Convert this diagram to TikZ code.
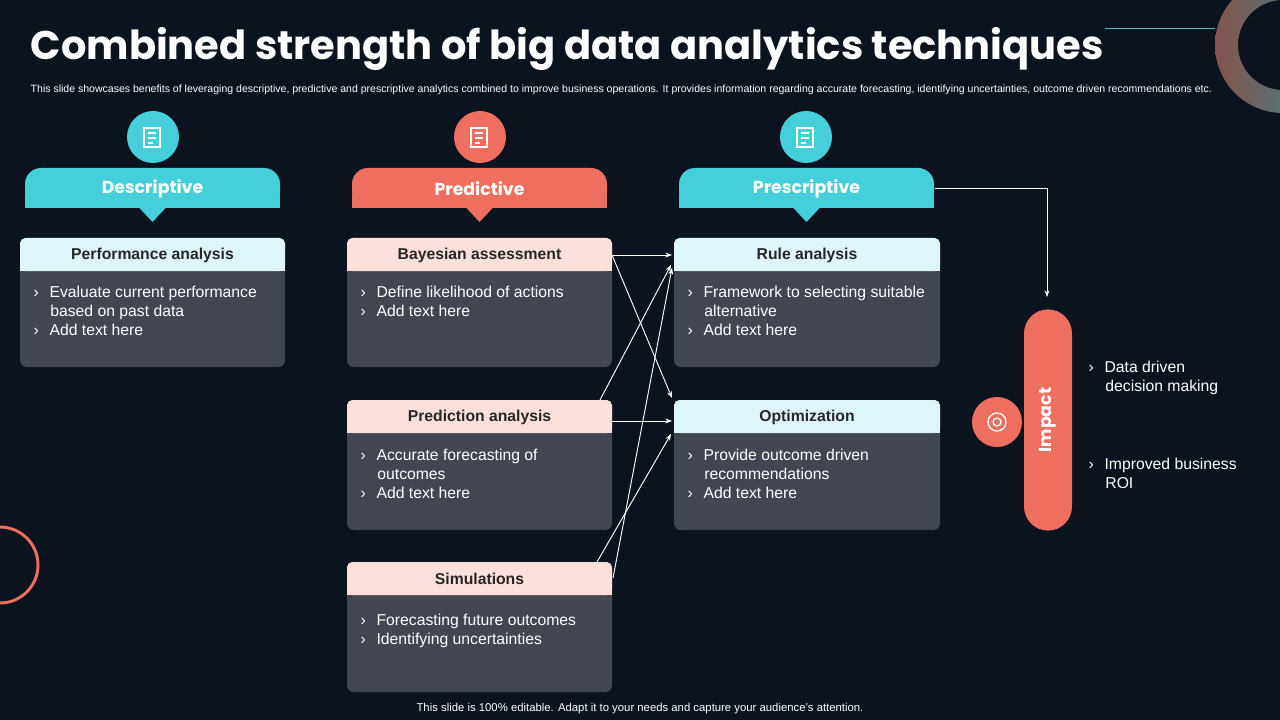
\documentclass[tikz,border=0pt]{standalone}
\usepackage{fontspec}
\setmainfont{Liberation Sans}
\newfontfamily\popp{Poppins}
\usetikzlibrary{arrows.meta,shapes.misc}
\definecolor{bg}{HTML}{0B131F}
\definecolor{cy}{HTML}{45CFD8}
\definecolor{rd}{HTML}{EE6F5F}
\definecolor{lcy}{HTML}{DDF6FA}
\definecolor{lpk}{HTML}{FDE0DC}
\definecolor{gr}{HTML}{414651}
\tikzset{
 x=0.75pt,y=-0.75pt,
 body/.style={font=\fontsize{11.8}{14.5}\selectfont,text=white,anchor=north west,align=left},
 headtxt/.style={font=\bfseries\fontsize{11.8}{14}\selectfont,text=black!85},
 tabtxt/.style={font=\popp\bfseries\fontsize{13}{15}\selectfont,text=white},
 conn/.style={draw=white,line width=0.7pt,-{Stealth[length=5pt]}},
}
\newcommand{\bl}{›\hspace{8pt}}
\newcommand{\ind}{\hspace{12.5pt}}
\newcommand{\card}[6]{% name, x1, y1, x2, y2, headcolor
 \fill[gr,rounded corners=5pt] (#2,#3) rectangle (#4,#5);
 \fill[#6,rounded corners=4pt] (#2,#3) rectangle (#4,#3+33);
 \fill[#6] (#2,#3+20) rectangle (#4,#3+33);
 \coordinate (#1) at ({(#2+#4)/2},#3+17);
}
\newcommand{\tab}[4]{% x1 x2 color label
 \fill[#3,rounded corners=12pt] (#1,208) -- (#1,168) -- (#2,168) -- (#2,208) -- cycle;
 \fill[#3] (#1,195) rectangle (#2,208);
 \fill[#3] ({(#1+#2)/2-14},207) -- ({(#1+#2)/2+14},207) -- ({(#1+#2)/2},222) -- cycle;
 \node[tabtxt] at ({(#1+#2)/2},189) {#4};
}
\begin{document}
\begin{tikzpicture}
\fill[bg] (0,0) rectangle (1280,720);
\useasboundingbox (0,0) rectangle (1280,720);
\begin{scope}
\clip (0,0) rectangle (1280,720);
\fill[even odd rule,left color=rd!55!gray!70!black,right color=cy!70!black] (1283,45) circle (68) (1283,45) circle (45);
\draw[rd,line width=2.2pt] (0,565) circle (38);
\end{scope}
\draw[cy!70!gray,line width=0.6pt] (1105,28) -- (1215,28);
\node[anchor=west,text=white,font=\popp\bfseries\fontsize{30}{34}\selectfont] at (26,49) {Combined strength of big data analytics techniques};
\node[anchor=west,text=white,font=\fontsize{7.9}{9}\selectfont] at (26,90) {This slide showcases benefits of leveraging descriptive, predictive and prescriptive analytics combined to improve business operations. It provides information regarding accurate forecasting, identifying uncertainties, outcome driven recommendations etc.};
\foreach \x/\c in {153/cy,480/rd,806/cy}{
 \fill[\c] (\x,137) circle (26);
 \draw[white,line width=1pt] (\x-9,128) rectangle (\x+7,147);
 \draw[white,line width=1pt] (\x-5,133)--(\x+3,133) (\x-5,138)--(\x+3,138) (\x-5,143)--(\x,143);
}
\tab{25}{280}{cy}{Descriptive}
\tab{352}{607}{rd}{Predictive}
\tab{679}{934}{cy}{Prescriptive}
\card{pa}{20}{238}{285}{367}{lcy}
\node[headtxt] (pah) at (pa) {Performance analysis};
\node[body] at (29,281) {\bl Evaluate current performance\\\ind based on past data\\\bl Add text here};
\card{ba}{347}{238}{612}{367}{lpk}
\node[headtxt] (bah) at (ba) {Bayesian assessment};
\node[body] at (356,281) {\bl Define likelihood of actions\\\bl Add text here};
\card{pr}{347}{400}{612}{530}{lpk}
\node[headtxt] (prh) at (pr) {Prediction analysis};
\node[body] at (356,444) {\bl Accurate forecasting of\\\ind outcomes\\\bl Add text here};
\card{si}{347}{562}{612}{692}{lpk}
\node[headtxt] (sih) at (si) {Simulations};
\node[body] at (356,609) {\bl Forecasting future outcomes\\\bl Identifying uncertainties};
\card{ru}{674}{238}{940}{367}{lcy}
\node[headtxt] (ruh) at (ru) {Rule analysis};
\node[body] at (683,281) {\bl Framework to selecting suitable\\\ind alternative\\\bl Add text here};
\card{op}{674}{400}{940}{530}{lcy}
\node[headtxt] (oph) at (op) {Optimization};
\node[body] at (683,444) {\bl Provide outcome driven\\\ind recommendations\\\bl Add text here};
\coordinate (b1) at (612,255); \coordinate (r1) at (672,255);
\coordinate (o0) at (672,398); \coordinate (p0) at (600,400);
\coordinate (r2) at (671,265); \coordinate (p1) at (612,421);
\coordinate (o1) at (672,421); \coordinate (s0) at (597,562);
\coordinate (o2) at (671,434); \coordinate (s1) at (613,578);
\coordinate (r3) at (672,268);
\draw[conn] (b1) -- (r1);
\draw[conn] (b1) -- (o0);
\draw[conn] (p0) -- (r2);
\draw[conn] (p1) -- (o1);
\draw[conn] (s0) -- (o2);
\draw[conn] (s1) -- (r3);
\node[draw=none,fill=rd,rounded rectangle,rounded rectangle arc length=180,minimum width=230*0.75pt,minimum height=48*0.75pt,rotate=90] (imp) at (1048,420) {};
\node[rotate=90,text=white,font=\popp\bfseries\fontsize{13}{15}\selectfont] at (imp) {Impact};
\coordinate (pt) at (935,188); \coordinate (bend) at (1047,188); \coordinate (it) at (1047,297);
\draw[conn] (pt) -- (bend) -- (it);
\fill[rd] (997,422) circle (25);
\draw[white,line width=1pt] (997,422) circle (9) (997,422) circle (4);
\node[body] at (1084,356) {\bl Data driven\\\ind decision making};
\node[body] at (1084,453) {\bl Improved business\\\ind ROI};
\node[text=white,font=\fontsize{8.5}{10}\selectfont] at (640,709) {This slide is 100\% editable. Adapt it to your needs and capture your audience's attention.};
\end{tikzpicture}
\end{document}
